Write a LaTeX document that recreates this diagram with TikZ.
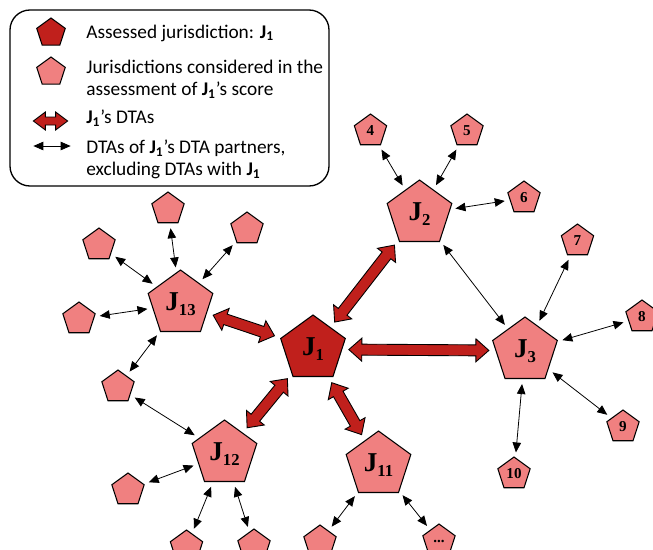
\documentclass[tikz,border=0pt]{standalone}
\usepackage{fontspec}
\setmainfont{Carlito}
\newfontfamily\labelfont{Liberation Serif}
\usetikzlibrary{shapes,arrows,positioning,calc}
\usetikzlibrary{arrows.meta}

\definecolor{assessed}{RGB}{192,32,28}
\definecolor{considered}{RGB}{240,128,128}

\newcommand{\jur}[1]{J\raisebox{-0.4ex}{\fontsize{9.5}{9.5}\selectfont #1}}

\tikzset{
  pent/.style={regular polygon, regular polygon sides=5, draw=black, line width=0.6pt, inner sep=0pt},
  bigpent/.style={pent, fill=considered, minimum size=13.6mm, font=\labelfont\bfseries\fontsize{15.5}{15.5}\selectfont},
  mainpent/.style={bigpent, fill=assessed},
  smallpent/.style={pent, fill=considered, minimum size=6.8mm, font=\labelfont\bfseries\fontsize{8.6}{8.6}\selectfont},
  keyend/.style={inner sep=0pt, minimum size=0pt},
  keytext/.style={anchor=west, align=left, inner sep=0pt, font=\fontsize{11}{12.5}\selectfont},
  dta/.style={{Triangle[length=2mm,width=1.7mm]}-{Triangle[length=2mm,width=1.7mm]}, line width=0.45pt, shorten <=1mm, shorten >=1mm},
  fat head length/.store in=\fatheadlength, fat head length=2.6mm,
  fat head width/.store in=\fatheadwidth, fat head width=2.3mm,
  fat shaft width/.store in=\fatshaftwidth, fat shaft width=1.1mm,
  fat gap/.store in=\fatgap, fat gap=1.3mm,
  bigdta/.style={draw=black, fill=assessed, line width=0.5pt, line join=miter,
    to path={
      let \p1=(\tikztostart), \p2=(\tikztotarget),
          \n1={int(mod(atan2(\y2-\y1,\x2-\x1)+360,360))},
          \n2={int(mod(\n1+180,360))} in
      ($(\tikztostart.\n1)!\fatgap!(\tikztotarget)$) coordinate (fs)
      ($(\tikztotarget.\n2)!\fatgap!(\tikztostart)$) coordinate (ft)
      (fs) -- ($(fs)!\fatheadlength!(ft)!\fatheadwidth!90:(ft)$)
      -- ($(fs)!\fatheadlength!(ft)!\fatshaftwidth!90:(ft)$)
      -- ($(ft)!\fatheadlength!(fs)!\fatshaftwidth!-90:(fs)$)
      -- ($(ft)!\fatheadlength!(fs)!\fatheadwidth!-90:(fs)$)
      -- (ft)
      -- ($(ft)!\fatheadlength!(fs)!\fatheadwidth!90:(fs)$)
      -- ($(ft)!\fatheadlength!(fs)!\fatshaftwidth!90:(fs)$)
      -- ($(fs)!\fatheadlength!(ft)!\fatshaftwidth!-90:(ft)$)
      -- ($(fs)!\fatheadlength!(ft)!\fatheadwidth!-90:(ft)$)
      -- cycle}}
}

\begin{document}
\begin{tikzpicture}[x=0.02cm, y=-0.02cm]
  \useasboundingbox (0,0) rectangle (653,549);
  \clip (0,0) rectangle (653,549);

  % legend
  \draw[rounded corners=4mm, line width=0.75pt] (10,10) rectangle (329,186);
  \node[pent, fill=assessed, minimum size=6mm] (keyassessed) at (51,33) {};
  \node[pent, fill=considered, minimum size=6mm] (keyconsidered) at (51,72) {};
  \node[keyend] (keyfatl) at (33,121) {};
  \node[keyend] (keyfatr) at (68,121) {};
  \node[keyend] (keythinl) at (33,146) {};
  \node[keyend] (keythinr) at (71,146) {};
  \draw[bigdta, fat gap=0mm, fat head length=2.4mm, fat head width=1.8mm, fat shaft width=0.8mm] (keyfatl) to (keyfatr);
  \draw[dta, shorten <=0pt, shorten >=0pt] (keythinl) -- (keythinr);
  \node[keytext] (keyt1) at (86,33) {Assessed jurisdiction: \textbf{J\textsubscript{1}}};
  \node[keytext] (keyt2) at (86,79) {Jurisdictions considered in the\\assessment of \textbf{J\textsubscript{1}}’s score};
  \node[keytext] (keyt3) at (86,118) {\textbf{J\textsubscript{1}}’s DTAs};
  \node[keytext] (keyt4) at (86,159) {DTAs of \textbf{J\textsubscript{1}}’s DTA partners,\\excluding DTAs with \textbf{J\textsubscript{1}}};

  % jurisdictions
  \node[mainpent] (j1) at (313,349) {\jur{1}};
  \node[bigpent] (j2) at (419.5,214) {\jur{2}};
  \node[bigpent] (j3) at (525,351) {\jur{3}};
  \node[bigpent] (j11) at (378.5,465) {\jur{11}};
  \node[bigpent] (j12) at (224.5,454) {\jur{12}};
  \node[bigpent] (j13) at (180.5,304) {\jur{13}};

  \node[smallpent] (n4) at (370.5,131) {4};
  \node[smallpent] (n5) at (467,131) {5};
  \node[smallpent] (n6) at (524,198) {6};
  \node[smallpent] (n7) at (577.5,241) {7};
  \node[smallpent] (n8) at (642,317) {8};
  \node[smallpent] (n9) at (623,427) {9};
  \node[smallpent] (n10) at (514,474) {10};
  \node[smallpent] (m11a) at (320,542) {};
  \node[smallpent] (m11b) at (439,541) {...};
  \node[smallpent] (m12a) at (128,490) {};
  \node[smallpent] (m12b) at (186.5,547) {};
  \node[smallpent] (m12c) at (254,546) {};
  \node[smallpent] (m1213) at (118,387) {};
  \node[smallpent] (m13a) at (79,319) {};
  \node[smallpent] (m13b) at (99,245) {};
  \node[smallpent] (m13c) at (168,209) {};
  \node[smallpent] (m13d) at (247,229) {};

  % DTAs of J1
  \foreach \partner in {j2,j3,j11,j12,j13}
    \draw[bigdta] (j1) to (\partner);

  % DTAs of the partners
  \foreach \a/\b in {j2/n4, j2/n5, j2/n6, j2/j3, j3/n7, j3/n8, j3/n9, j3/n10,
                     j11/m11a, j11/m11b, j12/m12a, j12/m12b, j12/m12c, j12/m1213,
                     j13/m1213, j13/m13a, j13/m13b, j13/m13c, j13/m13d}
    \draw[dta] (\a) -- (\b);
\end{tikzpicture}
\end{document}
